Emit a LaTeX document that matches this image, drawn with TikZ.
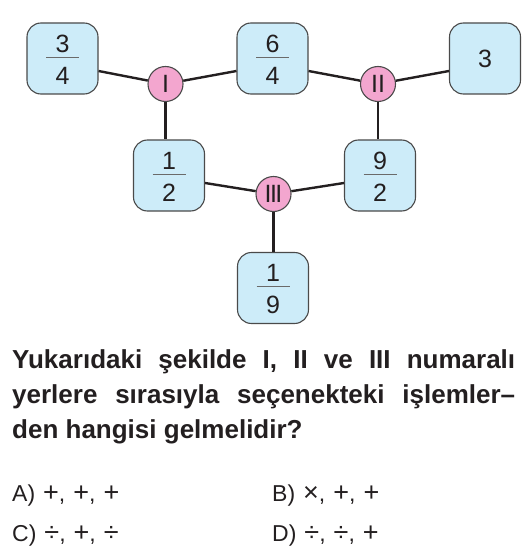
\documentclass[tikz,border=0pt]{standalone}
\usepackage{fontspec}
\setmainfont{Liberation Sans}
\definecolor{boxfill}{HTML}{CDECF9}
\definecolor{boxline}{HTML}{4A4A4A}
\definecolor{pinkfill}{HTML}{F3A6CF}
\definecolor{ink}{HTML}{231F20}
\definecolor{barc}{HTML}{6A6A6A}
\tikzset{
  numbox/.style={draw=boxline, line width=1.1pt, fill=boxfill, rounded corners=14pt,
    minimum width=71pt, minimum height=71pt, inner sep=0pt},
  opcirc/.style={circle, draw=boxline, line width=1.1pt, fill=pinkfill,
    minimum size=35pt, inner sep=0pt, text=ink, font=\fontsize{25}{25}\selectfont},
  digit/.style={inner sep=0pt, text=ink, font=\fontsize{25}{25}\selectfont},
  conn/.style={draw=ink, line width=2.4pt},
  head/.style={anchor=base west, inner sep=0pt, text=ink, font=\bfseries\fontsize{26}{30}\selectfont},
  ans/.style={anchor=base west, inner sep=0pt, text=ink, font=\fontsize{23}{26}\selectfont}
}
\newcommand{\opsym}[1]{{\fontsize{27}{27}\selectfont #1}}
\newcommand{\agap}{\hspace{8pt}}
\newcommand{\fracbox}[4]{% name, position, num, den
  \node[numbox] (#1) at #2 {};
  \node[digit] (#1n) at ([yshift=15pt]#1.center) {#3};
  \node[digit] (#1d) at ([yshift=-17.3pt]#1.center) {#4};
  \draw[barc, line width=1.3pt] ([xshift=-16.5pt,yshift=1.2pt]#1.center) -- ([xshift=16.5pt,yshift=1.2pt]#1.center);
}
\begin{document}
\begin{tikzpicture}[x=1pt, y=-1pt]
\useasboundingbox (0,0) rectangle (524,556);
% boxes
\fracbox{b34}{(62.5,58.5)}{3}{4}
\fracbox{b64}{(272.5,58.5)}{6}{4}
\node[numbox] (b3) at (485,58.5) {};
\node[digit] (b3t) at (b3.center) {3};
\fracbox{b12}{(169,175.5)}{1}{2}
\fracbox{b92}{(380,175.5)}{9}{2}
\fracbox{b19}{(273,288)}{1}{9}
% circles
\node[opcirc] (c1) at (165.5,84) {I};
\node[opcirc] (c2) at (378,84) {II};
\node[opcirc] (c3) at (273.5,194) {I\kern-1.6pt I\kern-1.6pt I};
% connectors
\draw[conn] ([yshift=-12.5pt]b34.east) -- (c1);
\draw[conn] (c1) -- ([yshift=-12.5pt]b64.west);
\draw[conn] (c1) -- (c1 |- b12.north);
\draw[conn] ([yshift=-12.5pt]b64.east) -- (c2);
\draw[conn] (c2) -- ([yshift=-12.5pt]b3.west);
\draw[conn] (c2) -- (c2 |- b92.north);
\draw[conn] ([yshift=-7.5pt]b12.east) -- (c3);
\draw[conn] (c3) -- ([yshift=-7.5pt]b92.west);
\draw[conn] (c3) -- (c3 |- b19.north);
% question text
\node[head] (q1) at (12,368) {\makebox[503pt][s]{Yukarıdaki şekilde I, II ve III numaralı}};
\node[head] (q2) at (12,403) {\makebox[503pt][s]{yerlere sırasıyla seçenekteki işlemler–}};
\node[head] (q3) at (12,438) {den hangisi gelmelidir?};
% answers
\node[ans] (aA) at (12,501) {A)\agap\opsym{+},\agap\opsym{+},\agap\opsym{+}};
\node[ans] (aB) at (272,501) {B)\agap\opsym{×},\agap\opsym{+},\agap\opsym{+}};
\node[ans] (aC) at (12,541) {C)\agap\opsym{÷},\agap\opsym{+},\agap\opsym{÷}};
\node[ans] (aD) at (272,541) {D)\agap\opsym{÷},\agap\opsym{÷},\agap\opsym{+}};
\end{tikzpicture}
\end{document}
